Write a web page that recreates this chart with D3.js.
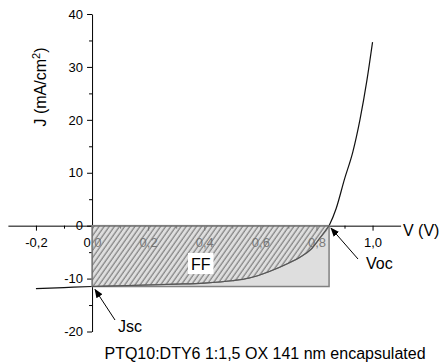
<!DOCTYPE html>
<html>
<head>
<meta charset="utf-8">
<script src="https://cdn.jsdelivr.net/npm/d3@7"></script>
<style>
  html, body { margin: 0; padding: 0; background: #fff; }
  svg { display: block; font-family: "Liberation Sans", Arial, sans-serif; }
</style>
</head>
<body>
<svg id="chart" width="441" height="364"></svg>
<script>
// J–V characteristic of the device (V in volts, J in mA/cm²)
const voltage = [-0.2, -0.1, 0.0, 0.1, 0.2, 0.3, 0.4, 0.5, 0.56, 0.63, 0.70, 0.74, 0.78, 0.81, 0.845, 0.87, 0.90, 0.93, 0.955, 0.98, 1.0];
const current = [-11.9, -11.7, -11.5, -11.35, -11.2, -11.05, -10.85, -10.4, -9.9, -8.7, -7.1, -6.0, -4.5, -2.5, 0.0, 3.2, 8.8, 14.0, 20.0, 27.5, 34.7];

// characteristic points
const Voc = 0.845;
const Jsc = -11.5;

// axis ticks
const xMajor = [-0.2, 0.0, 0.2, 0.4, 0.6, 0.8, 1.0];
const xMinor = [-0.1, 0.1, 0.3, 0.5, 0.7, 0.9];
const yMajor = [-20, -10, 0, 10, 20, 30, 40];
const yMinor = [-15, -5, 5, 15, 25, 35];

const caption = "PTQ10:DTY6 1:1,5 OX 141 nm encapsulated";

const svg = d3.select("#chart");

const x = d3.scaleLinear().domain([-0.3, 1.1]).range([7.9, 400.6]);
const y = d3.scaleLinear().domain([-20, 40]).range([331.5, 14]);

const commaFmt = d => (d < 0 ? "-" : "") + Math.abs(d).toFixed(1).replace(".", ",");
const intFmt = d => (d < 0 ? "-" : "") + Math.abs(d);

// hatch pattern for the fill-factor area
const defs = svg.append("defs");
const pat = defs.append("pattern")
  .attr("id", "hatch")
  .attr("patternUnits", "userSpaceOnUse")
  .attr("width", 4.2).attr("height", 10)
  .attr("patternTransform", "rotate(35)");
pat.append("line")
  .attr("x1", 1).attr("y1", 0).attr("x2", 1).attr("y2", 10)
  .attr("stroke", "#6a6a6a").attr("stroke-width", 1.1);

const arrow = defs.append("marker")
  .attr("id", "arrowhead")
  .attr("viewBox", "0 0 10 10")
  .attr("refX", 9).attr("refY", 5)
  .attr("markerWidth", 9).attr("markerHeight", 9)
  .attr("markerUnits", "userSpaceOnUse")
  .attr("orient", "auto");
arrow.append("path").attr("d", "M0,1 L10,5 L0,9 Z").attr("fill", "#000");

// X axis along J = 0
svg.append("g")
  .attr("transform", `translate(0,${y(0)})`)
  .call(d3.axisBottom(x).tickValues(xMajor).tickFormat(commaFmt)
    .tickSize(5).tickSizeOuter(0).tickPadding(7));
svg.append("g")
  .attr("transform", `translate(0,${y(0)})`)
  .call(d3.axisBottom(x).tickValues(xMinor).tickFormat("")
    .tickSize(3).tickSizeOuter(0))
  .select(".domain").remove();

// Y axis along V = 0
svg.append("g")
  .attr("transform", `translate(${x(0)},0)`)
  .call(d3.axisLeft(y).tickValues(yMajor).tickFormat(intFmt)
    .tickSize(5).tickSizeOuter(0).tickPadding(4));
svg.append("g")
  .attr("transform", `translate(${x(0)},0)`)
  .call(d3.axisLeft(y).tickValues(yMinor).tickFormat("")
    .tickSize(3).tickSizeOuter(0))
  .select(".domain").remove();

svg.selectAll(".tick text")
  .attr("font-size", 13)
  .attr("font-family", "Liberation Sans, Arial, sans-serif")
  .attr("fill", "#000");
svg.selectAll(".domain, .tick line").attr("stroke", "#000").attr("stroke-width", 1);

// J–V curve
const pts = voltage.map((v, i) => ({ v, j: current[i] }));
const line = d3.line().x(d => x(d.v)).y(d => y(d.j)).curve(d3.curveMonotoneX);
svg.append("path")
  .datum(pts)
  .attr("d", line)
  .attr("fill", "none")
  .attr("stroke", "#111")
  .attr("stroke-width", 1.2);

// Jsc × Voc rectangle
svg.append("rect")
  .attr("x", x(0)).attr("y", y(0))
  .attr("width", x(Voc) - x(0))
  .attr("height", y(Jsc) - y(0))
  .attr("fill", "#c8c8c8").attr("fill-opacity", 0.6)
  .attr("stroke", "#808080").attr("stroke-width", 1.5);

// hatched area between the curve and J = 0 (maximum power region)
const inside = pts.filter(d => d.v >= 0 && d.v <= Voc);
const area = d3.area().x(d => x(d.v)).y0(y(0)).y1(d => y(d.j)).curve(d3.curveMonotoneX);
svg.append("path")
  .datum(inside)
  .attr("d", area)
  .attr("fill", "url(#hatch)")
  .attr("fill-opacity", 0.9);
svg.append("path")
  .datum(inside)
  .attr("d", line)
  .attr("fill", "none")
  .attr("stroke", "#555")
  .attr("stroke-width", 1.1);

// FF label
svg.append("rect")
  .attr("x", 188).attr("y", 253).attr("width", 25.5).attr("height", 21)
  .attr("fill", "#fff");
svg.append("text")
  .attr("x", 200.7).attr("y", 269.5)
  .attr("text-anchor", "middle")
  .attr("font-size", 16)
  .text("FF");

// axis titles
svg.append("text")
  .attr("transform", `translate(46,87) rotate(-90)`)
  .attr("text-anchor", "middle")
  .attr("font-size", 16)
  .html('J (mA/cm<tspan dy="-6" font-size="11">2</tspan><tspan dy="6">)</tspan>');

svg.append("text")
  .attr("x", 403).attr("y", 236)
  .attr("font-size", 16)
  .text("V (V)");

// annotations
svg.append("line")
  .attr("x1", 358).attr("y1", 259).attr("x2", x(Voc) + 2).attr("y2", y(0) + 2.5)
  .attr("stroke", "#000").attr("stroke-width", 1)
  .attr("marker-end", "url(#arrowhead)");
svg.append("text")
  .attr("x", 366).attr("y", 269)
  .attr("font-size", 16)
  .text("Voc");

svg.append("line")
  .attr("x1", 115).attr("y1", 320).attr("x2", x(0) + 3).attr("y2", y(Jsc) + 3)
  .attr("stroke", "#000").attr("stroke-width", 1)
  .attr("marker-end", "url(#arrowhead)");
svg.append("text")
  .attr("x", 118).attr("y", 331.5)
  .attr("font-size", 16)
  .text("Jsc");

// caption
svg.append("text")
  .attr("x", 265).attr("y", 358.5)
  .attr("text-anchor", "middle")
  .attr("font-size", 16)
  .text(caption);
</script>
</body>
</html>
